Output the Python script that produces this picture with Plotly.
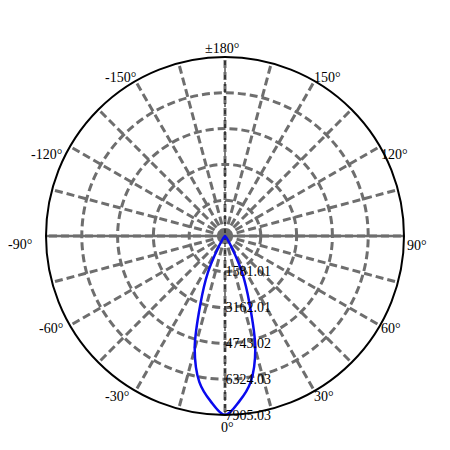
import numpy as np
import plotly.graph_objects as go

# Intensity (cd) measured on one half-plane, 0..180 deg every 5 deg
half_angles = list(range(0, 185, 5))
half_intensity = [7905.03, 7320, 6540, 5170, 3150, 1800, 650, 230, 90, 45,
                  30, 22, 16, 12, 9, 6, 4, 2, 1, 0,
                  0, 0, 0, 0, 0, 0, 0, 0, 0, 0,
                  0, 0, 0, 0, 0, 0, 0]

# mirror the half-plane to get the full -180..180 curve
theta = [-a for a in half_angles[::-1]] + half_angles[1:]
r = half_intensity[::-1] + half_intensity[1:]

r_ticks = [1581.01, 3162.01, 4743.02, 6324.03, 7905.03]
r_max = 7905.03

ang_vals = list(range(0, 360, 15))
ang_labels = {0: "0°", 30: "30°", 60: "60°", 90: "90°", 120: "120°", 150: "150°",
              180: "±180°", 210: "-150°", 240: "-120°", 270: "-90°", 300: "-60°",
              330: "-30°"}

grid_col = "#6e6e6e"

# layout geometry (px)
W = H = 450
ml, mt, size = 38, 49, 358
R = size / 2
# label nudges (px, screen) from the point where each spoke meets the rim
nudge = {0: (2, 12), 30: (9, 5), 60: (11, 3), 90: (13, 9), 120: (14, 8),
         150: (13, -3), 180: (-3, -9), 210: (-15, -3), 240: (-23, 8),
         270: (-26, 9), 300: (-19, 3), 330: (-18, 5)}

annotations = []
for a, txt in ang_labels.items():
    px = R + R * np.sin(np.radians(a)) + nudge[a][0]
    py = R + R * np.cos(np.radians(a)) + nudge[a][1]
    annotations.append(dict(
        x=px / size, y=1 - py / size, xref="paper", yref="paper",
        text=txt, showarrow=False, xanchor="center", yanchor="middle",
        font=dict(size=14, color="black")))

fig = go.Figure()

# solid horizontal axis line (-90 .. 90)
fig.add_trace(go.Scatterpolar(
    r=[r_max, 0, r_max], theta=[90, 0, 270], mode="lines",
    line=dict(color=grid_col, width=2.5), hoverinfo="skip", showlegend=False))

# thin dashed vertical axis line (0 .. 180)
fig.add_trace(go.Scatterpolar(
    r=[r_max, 0, r_max], theta=[0, 0, 180], mode="lines",
    line=dict(color="black", width=1, dash="4px,3px"), hoverinfo="skip", showlegend=False))

fig.add_trace(go.Scatterpolar(
    r=r, theta=theta, mode="lines",
    line=dict(color="#0a0aee", width=2.5, shape="spline"), showlegend=False))

fig.update_layout(
    width=W, height=H,
    margin=dict(l=ml, r=W - ml - size, t=mt, b=H - mt - size),
    paper_bgcolor="white",
    font=dict(family="Times New Roman, Liberation Serif, serif", size=14, color="black"),
    annotations=annotations,
    polar=dict(
        bgcolor="white",
        angularaxis=dict(
            rotation=-90, direction="counterclockwise",
            tickmode="array", tickvals=ang_vals, showticklabels=False,
            ticks="", showline=True, linecolor="black", linewidth=2,
            showgrid=True, gridcolor=grid_col, gridwidth=2.5, griddash="8px,4px",
        ),
        radialaxis=dict(
            range=[0, r_max], tickmode="array", tickvals=r_ticks,
            ticktext=[f"{v:.2f}" for v in r_ticks],
            angle=-90, tickangle=-90, side="counterclockwise", ticks="",
            showline=False, showgrid=True, gridcolor=grid_col, gridwidth=2.5,
            griddash="8px,4px",
        ),
    ),
)

fig.write_html("out.html")
